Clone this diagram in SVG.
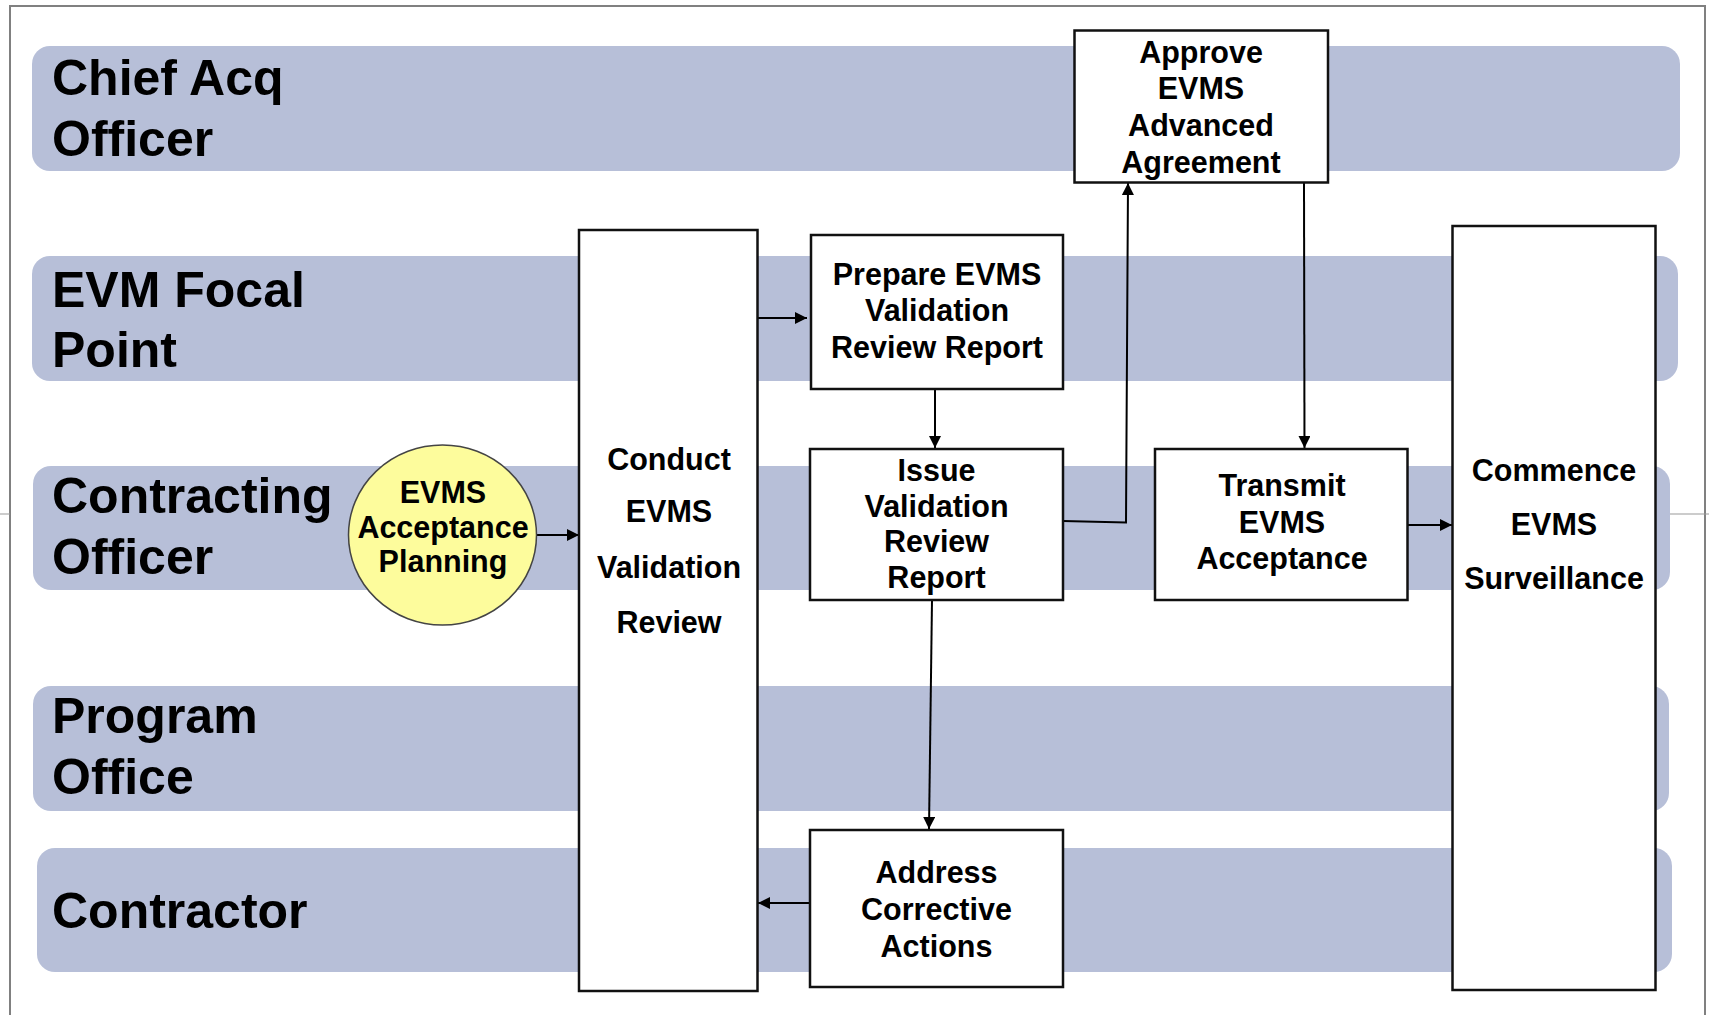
<svg xmlns="http://www.w3.org/2000/svg" width="1709" height="1015" viewBox="0 0 1709 1015">
<defs>
<style>
.lane{fill:#b7bfd8;}
.lbl{font-family:"Liberation Sans",Arial,sans-serif;font-weight:bold;font-size:50px;fill:#000;}
.box{fill:#fff;stroke:#111;stroke-width:2.5;}
.nt{font-family:"Liberation Sans",Arial,sans-serif;font-weight:bold;font-size:30.5px;fill:#000;text-anchor:middle;}
.conn{fill:none;stroke:#000;stroke-width:2;}
.frame{fill:none;stroke:#808080;stroke-width:2;}
</style>
<marker id="arr" viewBox="0 0 12 12" refX="12" refY="6" markerWidth="12" markerHeight="12" markerUnits="userSpaceOnUse" orient="auto">
<path d="M0,0 L12,6 L0,12 Z" fill="#000"/>
</marker>
</defs>
<rect width="1709" height="1015" fill="#fff"/>
<g id="frame">
<rect class="frame" x="10" y="6" width="1695" height="1030"/>
<line x1="0" y1="514" x2="10" y2="514" stroke="#999" stroke-width="1"/>
<line x1="1670" y1="514" x2="1709" y2="514" stroke="#999" stroke-width="1"/>
</g>
<g id="lanes">
<g id="lane-chief"><rect class="lane" x="32" y="46" width="1648" height="125" rx="18"/>
<text class="lbl" x="52" y="95">Chief Acq</text><text class="lbl" x="52" y="156">Officer</text></g>
<g id="lane-evm"><rect class="lane" x="32" y="256" width="1646" height="125" rx="18"/>
<text class="lbl" x="52" y="307">EVM Focal</text><text class="lbl" x="52" y="367">Point</text></g>
<g id="lane-co"><rect class="lane" x="33" y="466" width="1637" height="124" rx="18"/>
<text class="lbl" x="52" y="513">Contracting</text><text class="lbl" x="52" y="574">Officer</text></g>
<g id="lane-po"><rect class="lane" x="33" y="686" width="1636" height="125" rx="18"/>
<text class="lbl" x="52" y="733">Program</text><text class="lbl" x="52" y="794">Office</text></g>
<g id="lane-contractor"><rect class="lane" x="37" y="848" width="1635" height="124" rx="18"/>
<text class="lbl" x="52" y="928">Contractor</text></g>
</g>
<g id="connectors">
<line class="conn" x1="537" y1="535" x2="579" y2="535" marker-end="url(#arr)"/>
<line class="conn" x1="758" y1="318" x2="807" y2="318" marker-end="url(#arr)"/>
<line class="conn" x1="935" y1="389" x2="935" y2="448" marker-end="url(#arr)"/>
<polyline class="conn" points="1063,521 1126,522.5 1128,183" marker-end="url(#arr)"/>
<line class="conn" x1="1304" y1="183" x2="1304.5" y2="448" marker-end="url(#arr)"/>
<line class="conn" x1="1407.5" y1="525" x2="1452" y2="525" marker-end="url(#arr)"/>
<line class="conn" x1="932" y1="600" x2="929" y2="829" marker-end="url(#arr)"/>
<line class="conn" x1="810" y1="903" x2="758" y2="903" marker-end="url(#arr)"/>
</g>
<g id="node-planning">
<ellipse cx="442.5" cy="535" rx="94" ry="90" fill="#fdfc9c" stroke="#444" stroke-width="1.5"/>
<text class="nt" x="443" y="503">EVMS</text>
<text class="nt" x="443" y="537.5">Acceptance</text>
<text class="nt" x="443" y="572">Planning</text>
</g>
<g id="node-conduct">
<rect class="box" x="579" y="230" width="178.5" height="761"/>
<text class="nt" x="669" y="470">Conduct</text>
<text class="nt" x="669" y="522">EVMS</text>
<text class="nt" x="669" y="578">Validation</text>
<text class="nt" x="669" y="633">Review</text>
</g>
<g id="node-prepare">
<rect class="box" x="811" y="235" width="252" height="154"/>
<text class="nt" x="937" y="284.5">Prepare EVMS</text>
<text class="nt" x="937" y="321">Validation</text>
<text class="nt" x="937" y="357.5">Review Report</text>
</g>
<g id="node-approve">
<rect class="box" x="1074.5" y="30.5" width="253.5" height="152"/>
<text class="nt" x="1201" y="62.5">Approve</text>
<text class="nt" x="1201" y="99">EVMS</text>
<text class="nt" x="1201" y="136">Advanced</text>
<text class="nt" x="1201" y="172.5">Agreement</text>
</g>
<g id="node-issue">
<rect class="box" x="810" y="449" width="253" height="151"/>
<text class="nt" x="936.5" y="480.5">Issue</text>
<text class="nt" x="936.5" y="516.5">Validation</text>
<text class="nt" x="936.5" y="552">Review</text>
<text class="nt" x="936.5" y="588">Report</text>
</g>
<g id="node-transmit">
<rect class="box" x="1155" y="449" width="252.5" height="151"/>
<text class="nt" x="1282" y="496">Transmit</text>
<text class="nt" x="1282" y="532.5">EVMS</text>
<text class="nt" x="1282" y="569">Acceptance</text>
</g>
<g id="node-commence">
<rect class="box" x="1452.5" y="226" width="203" height="764"/>
<text class="nt" x="1554" y="481">Commence</text>
<text class="nt" x="1554" y="534.5">EVMS</text>
<text class="nt" x="1554" y="588.5">Surveillance</text>
</g>
<g id="node-address">
<rect class="box" x="810" y="830" width="253" height="157"/>
<text class="nt" x="936.5" y="883">Address</text>
<text class="nt" x="936.5" y="920">Corrective</text>
<text class="nt" x="936.5" y="957">Actions</text>
</g>
</svg>
